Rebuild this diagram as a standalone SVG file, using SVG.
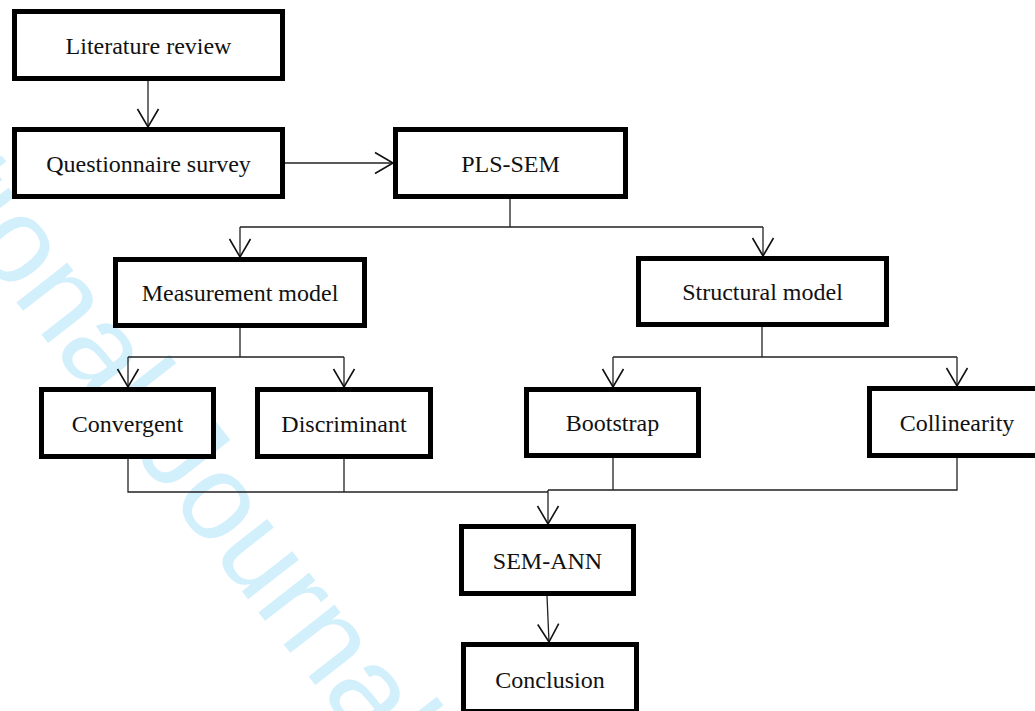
<svg xmlns="http://www.w3.org/2000/svg" width="1035" height="711" viewBox="0 0 1035 711">
<style>
.box{fill:#fff;stroke:#000;stroke-width:5}
.lbl{font-family:"Liberation Serif","Times New Roman",serif;font-size:24px;fill:#111;text-anchor:middle}
.ln{fill:none;stroke:#222;stroke-width:1.3}
.wm{font-family:"Liberation Sans",Arial,sans-serif;font-size:122px;fill:#d2effc}
</style>
<defs>
<marker id="ah" viewBox="-20 -12 22 24" markerWidth="22" markerHeight="24" refX="0" refY="0" orient="auto" markerUnits="userSpaceOnUse" overflow="visible">
<path d="M-18,-10.5 L0,0 L-18,10.5" fill="none" stroke="#111" stroke-width="1.6"/>
</marker>
</defs>
<rect width="1035" height="711" fill="#fff"/>
<text class="wm" transform="translate(-302,-105) rotate(52)">International Journal</text>
<g id="connectors">
<line class="ln" x1="148" y1="81" x2="148" y2="127" marker-end="url(#ah)"/>
<line class="ln" x1="285" y1="163" x2="393" y2="163" marker-end="url(#ah)"/>
<path class="ln" d="M510,199 V227 M240,227 H763"/>
<line class="ln" x1="240" y1="227" x2="240" y2="257" marker-end="url(#ah)"/>
<line class="ln" x1="763" y1="227" x2="763" y2="256" marker-end="url(#ah)"/>
<path class="ln" d="M240,328 V357 M128,357 H344"/>
<line class="ln" x1="128" y1="357" x2="128" y2="387" marker-end="url(#ah)"/>
<line class="ln" x1="344" y1="357" x2="344" y2="387" marker-end="url(#ah)"/>
<path class="ln" d="M762,327 V357 M613,357 H957"/>
<line class="ln" x1="613" y1="357" x2="613" y2="387" marker-end="url(#ah)"/>
<line class="ln" x1="957" y1="357" x2="957" y2="386" marker-end="url(#ah)"/>
<path class="ln" d="M128,459 V492 H548 M344,459 V492 M613,458 V490 M957,458 V490 H548"/>
<line class="ln" x1="548" y1="490" x2="548" y2="524" marker-end="url(#ah)"/>
<line class="ln" x1="547" y1="596" x2="549" y2="642" marker-end="url(#ah)"/>
</g>
<g id="n-literature"><rect class="box" x="14.5" y="11.5" width="268" height="67"/><text class="lbl" x="148.5" y="54">Literature review</text></g>
<g id="n-questionnaire"><rect class="box" x="14.5" y="129.5" width="268" height="67"/><text class="lbl" x="148.5" y="172">Questionnaire survey</text></g>
<g id="n-plssem"><rect class="box" x="395.5" y="129.5" width="230" height="67"/><text class="lbl" x="510.5" y="172">PLS-SEM</text></g>
<g id="n-measurement"><rect class="box" x="115.5" y="259.5" width="249" height="66"/><text class="lbl" x="240" y="301">Measurement model</text></g>
<g id="n-structural"><rect class="box" x="638.5" y="258.5" width="248" height="66"/><text class="lbl" x="762.5" y="300">Structural model</text></g>
<g id="n-convergent"><rect class="box" x="41.5" y="389.5" width="172" height="67"/><text class="lbl" x="127.5" y="432">Convergent</text></g>
<g id="n-discriminant"><rect class="box" x="257.5" y="389.5" width="173" height="67"/><text class="lbl" x="344" y="432">Discriminant</text></g>
<g id="n-bootstrap"><rect class="box" x="526.5" y="389.5" width="172" height="66"/><text class="lbl" x="612.5" y="431">Bootstrap</text></g>
<g id="n-collinearity"><rect class="box" x="869.5" y="388.5" width="175" height="67"/><text class="lbl" x="957" y="431">Collinearity</text></g>
<g id="n-semann"><rect class="box" x="461.5" y="526.5" width="172" height="67"/><text class="lbl" x="547.5" y="569">SEM-ANN</text></g>
<g id="n-conclusion"><rect class="box" x="463.5" y="644.5" width="173" height="67"/><text class="lbl" x="550" y="688">Conclusion</text></g>
</svg>
